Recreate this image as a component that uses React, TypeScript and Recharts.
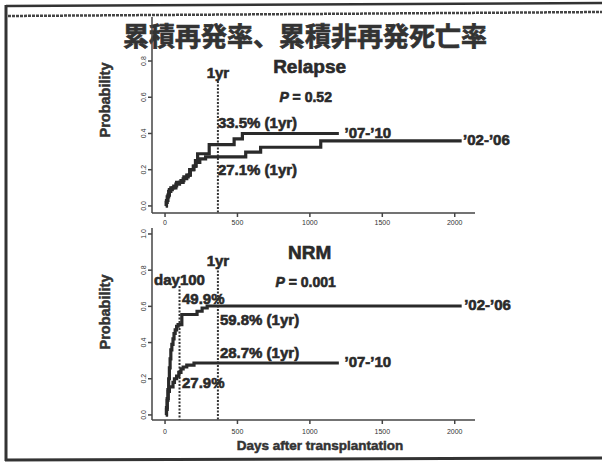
import React from 'react';
import { LineChart, Line, XAxis, YAxis, ReferenceLine, ReferenceDot } from 'recharts';

// relapse, '07-'10 cohort
const relapseLateDays = [5, 8, 15, 25, 40, 60, 80, 110, 130, 160, 175, 195, 210, 225, 305, 477, 534, 1200];
const relapseLateProb = [0, 0.02, 0.05, 0.08, 0.1, 0.11, 0.13, 0.14, 0.16, 0.17, 0.2, 0.22, 0.25, 0.288, 0.338, 0.37, 0.4, 0.4];
// relapse, '02-'06 cohort
const relapseEarlyDays = [5, 10, 20, 30, 50, 75, 100, 125, 150, 170, 200, 215, 240, 280, 557, 660, 1075, 2048];
const relapseEarlyProb = [0, 0.03, 0.06, 0.09, 0.1, 0.12, 0.13, 0.15, 0.17, 0.2, 0.22, 0.24, 0.26, 0.271, 0.297, 0.324, 0.359, 0.359];
// NRM, '02-'06 cohort
const nrmEarlyDays = [5, 10, 15, 20, 25, 30, 35, 40, 47, 55, 62, 70, 80, 90, 116, 221, 256, 291, 2048];
const nrmEarlyProb = [0, 0.03, 0.08, 0.14, 0.2, 0.26, 0.31, 0.36, 0.39, 0.42, 0.45, 0.47, 0.49, 0.499, 0.555, 0.573, 0.591, 0.602, 0.602];
// NRM, '07-'10 cohort
const nrmLateDays = [5, 10, 15, 22, 30, 55, 65, 80, 95, 110, 125, 150, 200, 1200];
const nrmLateProb = [0, 0.04, 0.09, 0.13, 0.155, 0.18, 0.2, 0.215, 0.235, 0.255, 0.265, 0.275, 0.287, 0.287];

const xTicks = [0, 500, 1000, 1500, 2000];
const relapseYTicks = [0, 0.2, 0.4, 0.6, 0.8];
const nrmYTicks = [0, 0.2, 0.4, 0.6, 0.8, 1.0];

const toPoints = (days: number[], prob: number[]) => days.map((d, i) => ({ d, p: prob[i] }));

const INK = '#2a2a2a';
const BOLD = '"Liberation Sans", Arial, sans-serif';

const YTick = (props: any) => {
  const { x, y, payload } = props;
  return (
    <text x={x} y={y} transform={`rotate(-90 ${x} ${y})`} textAnchor="middle" fontSize={7} fill="#333" fontFamily={BOLD}>
      {payload.value.toFixed(1)}
    </text>
  );
};

const XTick = (props: any) => {
  const { x, y, payload } = props;
  return (
    <text x={x} y={y + 6} textAnchor="middle" fontSize={7} fill="#333" fontFamily={BOLD}>
      {payload.value}
    </text>
  );
};

const note = (text: React.ReactNode, size: number, anchor: 'start' | 'middle' = 'start') => (p: any) => {
  const vb = p.viewBox;
  const cx = vb.x + vb.width / 2;
  const cy = vb.y + vb.height / 2;
  return (
    <text x={cx} y={cy} dominantBaseline="central" textAnchor={anchor} fontSize={size} fontWeight="bold" fill={INK}
      stroke={INK} strokeWidth={0.6} fontFamily={BOLD}>
      {text}
    </text>
  );
};

const Note = (x: number, y: number, text: React.ReactNode, size: number, anchor: 'start' | 'middle' = 'start') => (
  <ReferenceDot x={x} y={y} r={1} fill="none" stroke="none" label={note(text, size, anchor)} />
);

const pItal = (v: string) => (
  <>
    <tspan fontStyle="italic">P</tspan>
    {' = ' + v}
  </>
);

export default function App() {
  return (
    <div style={{ position: 'absolute', left: 0, top: 0, width: 602, height: 463, background: '#fff', overflow: 'hidden' }}>
      <svg width={602} height={463} style={{ position: 'absolute', left: 0, top: 0 }}>
        <line x1={6} y1={6} x2={602} y2={3} stroke="#333" strokeWidth={2.5} />
        <line x1={8} y1={16} x2={602} y2={12} stroke="#444" strokeWidth={2.5} strokeDasharray="3 1" />
        <line x1={6} y1={5} x2={6} y2={461} stroke="#333" strokeWidth={3} />
        <line x1={5} y1={460} x2={602} y2={458} stroke="#333" strokeWidth={3} />
        <text x={305} y={34} textAnchor="middle" dominantBaseline="central" fontSize={26} fontWeight="bold" fill="#333"
          stroke="#333" strokeWidth={0.7} fontFamily='"Noto Sans CJK JP", sans-serif'>
          累積再発率、累積非再発死亡率
        </text>
        <text x={105} y={100} transform="rotate(-90 105 100)" textAnchor="middle" dominantBaseline="central" fontSize={14.5}
          fontWeight="bold" fill="#333" stroke="#333" strokeWidth={0.5} fontFamily={BOLD}>Probability</text>
        <text x={105} y={312} transform="rotate(-90 105 312)" textAnchor="middle" dominantBaseline="central" fontSize={14.5}
          fontWeight="bold" fill="#333" stroke="#333" strokeWidth={0.5} fontFamily={BOLD}>Probability</text>
        <text x={320} y={445} textAnchor="middle" dominantBaseline="central" fontSize={13.5} fontWeight="bold" fill="#333"
          stroke="#333" strokeWidth={0.5} fontFamily={BOLD}>Days after transplantation</text>
      </svg>

      <div style={{ position: 'absolute', left: 0, top: 0 }}>
        <LineChart width={602} height={240} margin={{ top: 17, right: 127, bottom: 7, left: 112 }}>
          <XAxis dataKey="d" type="number" domain={[-90, 2140]} ticks={xTicks} tick={<XTick />} tickSize={4}
            stroke="#444" strokeWidth={1.5} height={20} allowDataOverflow />
          <YAxis type="number" domain={[-0.039, 1.043]} ticks={relapseYTicks} tick={<YTick />} tickSize={4} tickMargin={2}
            stroke="#444" strokeWidth={1.5} width={40} allowDataOverflow />
          <ReferenceLine segment={[{ x: 365, y: 0.69 }, { x: 365, y: -0.039 }]} stroke="#333" strokeWidth={2} strokeDasharray="2 1.5" />
          <Line data={toPoints(relapseEarlyDays, relapseEarlyProb)} dataKey="p" type="stepAfter" stroke={INK} strokeWidth={3.2}
            dot={false} isAnimationActive={false} />
          <Line data={toPoints(relapseLateDays, relapseLateProb)} dataKey="p" type="stepAfter" stroke={INK} strokeWidth={3.2}
            dot={false} isAnimationActive={false} />
          {Note(365, 0.734, '1yr', 15, 'middle')}
          {Note(998, 0.772, 'Relapse', 19, 'middle')}
          {Note(971, 0.601, pItal('0.52'), 14, 'middle')}
          {Note(365, 0.463, '33.5% (1yr)', 15)}
          {Note(365, 0.199, '27.1% (1yr)', 15)}
          {Note(1239, 0.408, '’07-’10', 15)}
          {Note(2058, 0.364, '’02-’06', 15)}
        </LineChart>
      </div>

      <div style={{ position: 'absolute', left: 0, top: 220 }}>
        <LineChart width={602} height={230} margin={{ top: 8, right: 127, bottom: 10, left: 112 }}>
          <XAxis dataKey="d" type="number" domain={[-90, 2140]} ticks={xTicks} tick={<XTick />} tickSize={4} tickMargin={4}
            stroke="#444" strokeWidth={1.5} height={20} allowDataOverflow />
          <YAxis type="number" domain={[-0.028, 1.033]} ticks={nrmYTicks} tick={<YTick />} tickSize={4} tickMargin={2}
            stroke="#444" strokeWidth={1.5} width={40} allowDataOverflow />
          <ReferenceLine segment={[{ x: 365, y: 0.818 }, { x: 365, y: -0.028 }]} stroke="#333" strokeWidth={2} strokeDasharray="2 1.5" />
          <ReferenceLine segment={[{ x: 100, y: 0.713 }, { x: 100, y: -0.028 }]} stroke="#333" strokeWidth={2} strokeDasharray="2 1.5" />
          <Line data={toPoints(nrmEarlyDays, nrmEarlyProb)} dataKey="p" type="stepAfter" stroke={INK} strokeWidth={3.2}
            dot={false} isAnimationActive={false} />
          <Line data={toPoints(nrmLateDays, nrmLateProb)} dataKey="p" type="stepAfter" stroke={INK} strokeWidth={3.2}
            dot={false} isAnimationActive={false} />
          {Note(998, 0.9, 'NRM', 19, 'middle')}
          {Note(365, 0.856, '1yr', 15, 'middle')}
          {Note(100, 0.746, 'day100', 15, 'middle')}
          {Note(971, 0.735, pItal('0.001'), 14, 'middle')}
          {Note(117, 0.646, '49.9%', 15)}
          {Note(379, 0.53, '59.8% (1yr)', 15)}
          {Note(2065, 0.608, '’02-’06', 15)}
          {Note(379, 0.343, '28.7% (1yr)', 15)}
          {Note(1239, 0.298, '’07-’10', 15)}
          {Note(117, 0.177, '27.9%', 15)}
        </LineChart>
      </div>
    </div>
  );
}
